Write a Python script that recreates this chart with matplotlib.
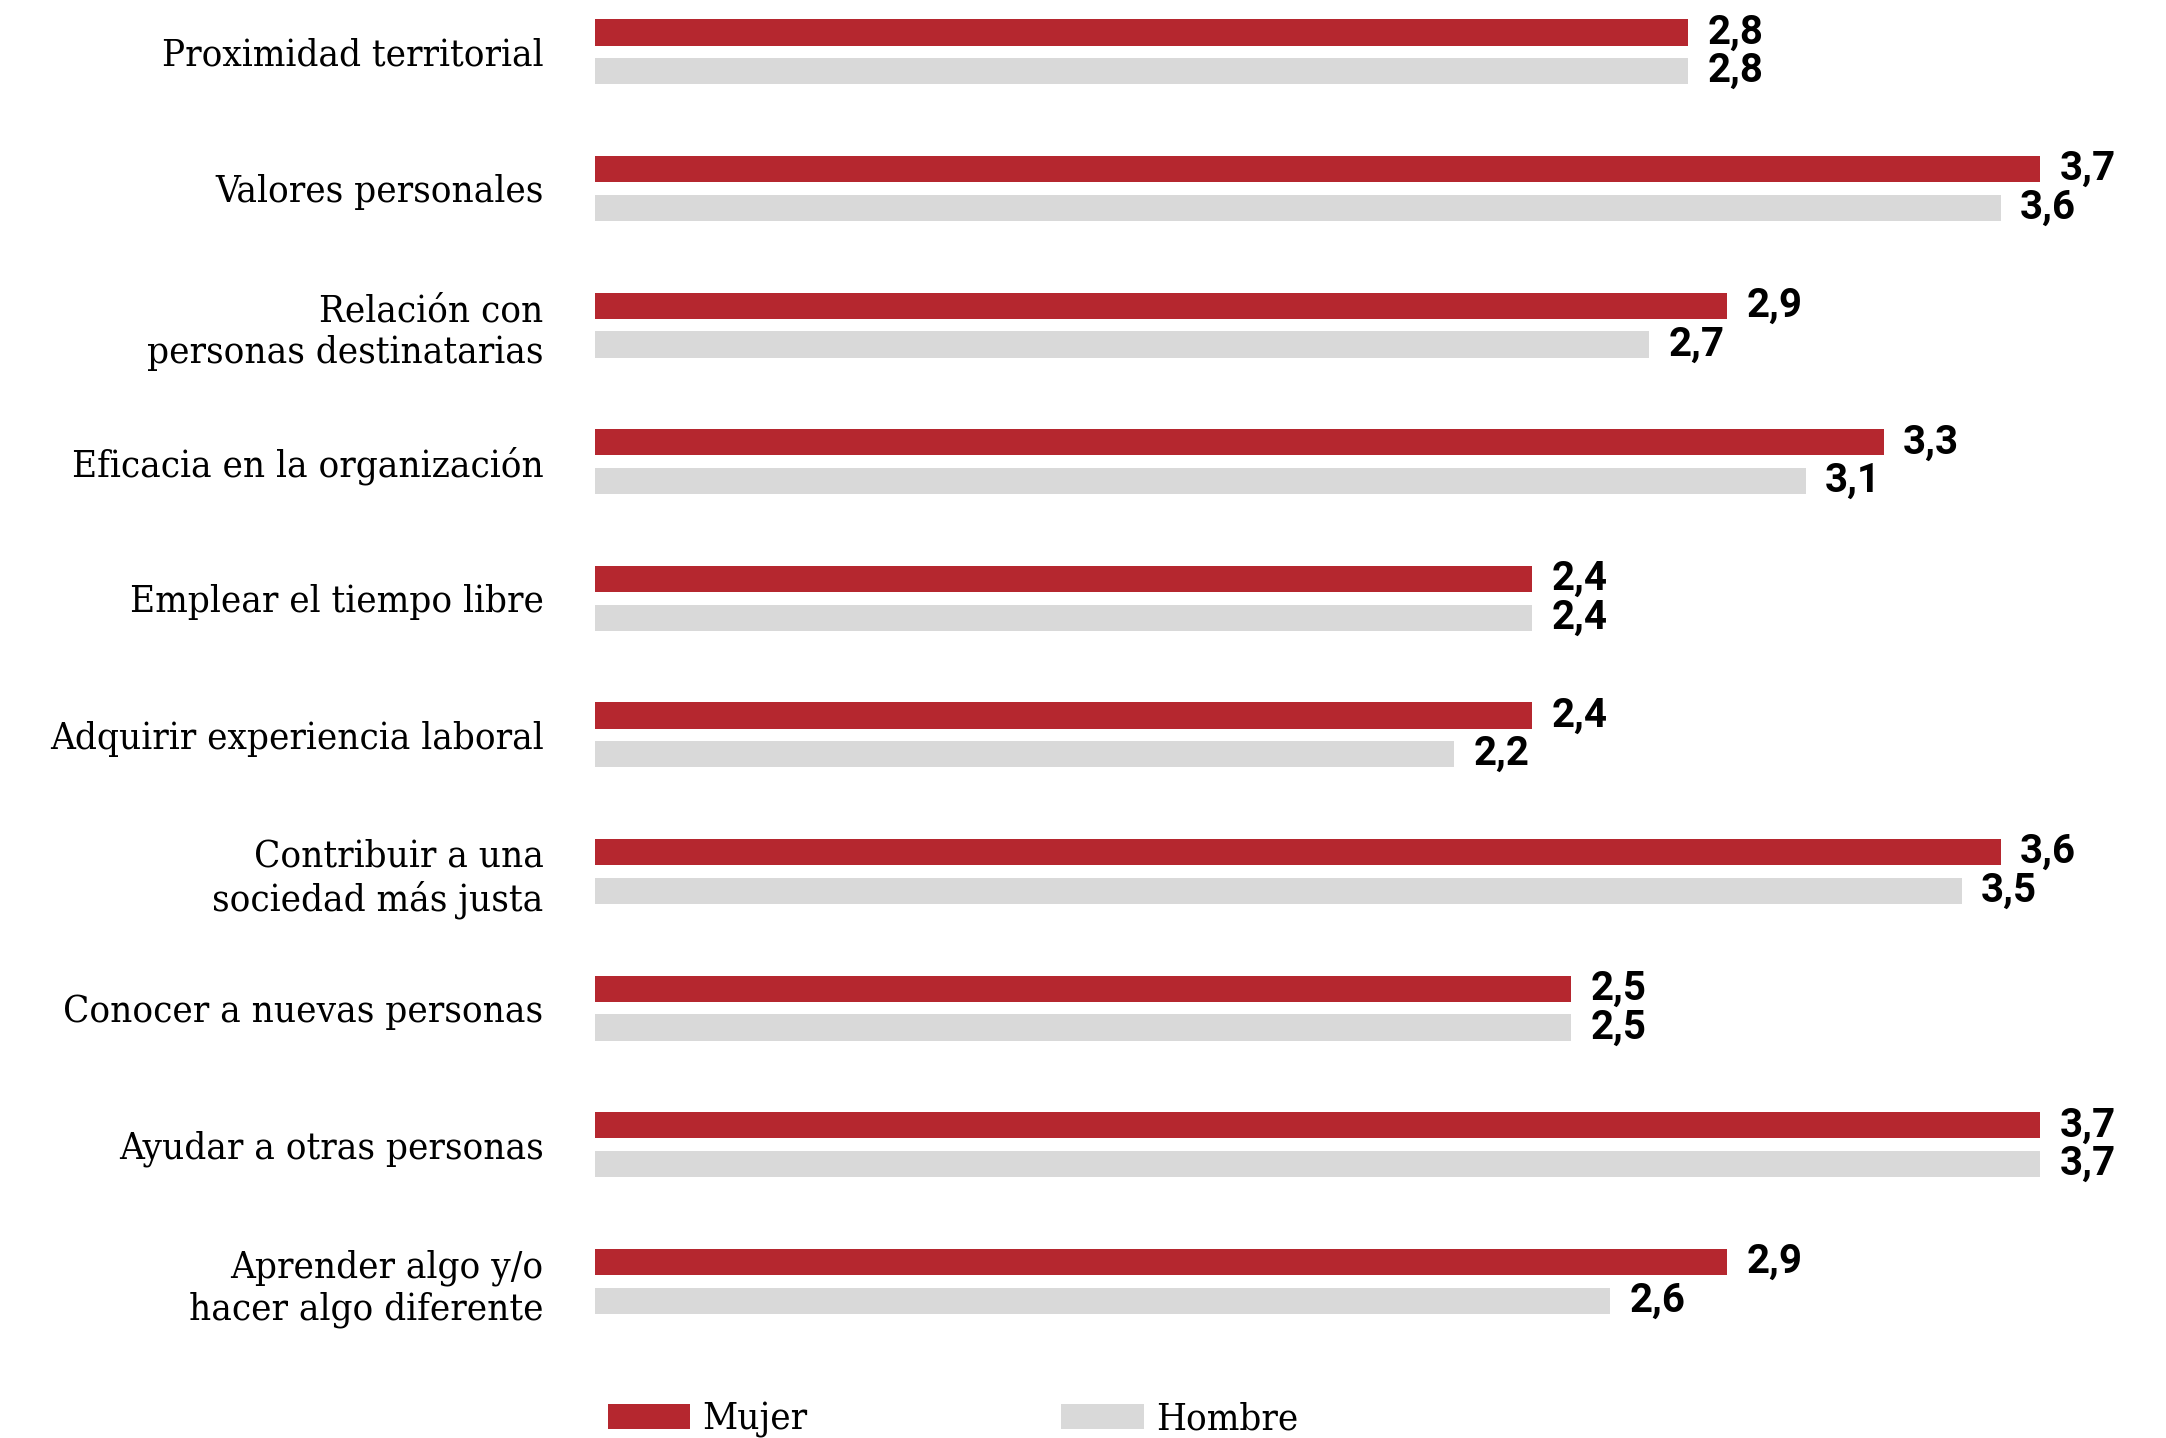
import matplotlib
matplotlib.use("Agg")
import matplotlib.pyplot as plt
import numpy as np

categorias = [
    "Proximidad territorial",
    "Valores personales",
    "Relación con\npersonas destinatarias",
    "Eficacia en la organización",
    "Emplear el tiempo libre",
    "Adquirir experiencia laboral",
    "Contribuir a una\nsociedad más justa",
    "Conocer a nuevas personas",
    "Ayudar a otras personas",
    "Aprender algo y/o\nhacer algo diferente",
]
mujer = [2.8, 3.7, 2.9, 3.3, 2.4, 2.4, 3.6, 2.5, 3.7, 2.9]
hombre = [2.8, 3.6, 2.7, 3.1, 2.4, 2.2, 3.5, 2.5, 3.7, 2.6]
series = ["Mujer", "Hombre"]

ROJO = "#B5272F"
GRIS = "#D9D9D9"
label_font = dict(family="DejaVu Serif", stretch="condensed")
value_font = dict(family="Roboto", weight="bold", stretch="condensed")

fig = plt.figure(figsize=(21.66, 14.38), dpi=100)
ax = fig.add_axes([595 / 2166, 0, 1 - 595 / 2166, 1])

y = np.arange(len(categorias))
off = 0.1417
h = 0.192
b1 = ax.barh(y - off, mujer, height=h, color=ROJO, label=series[0])
b2 = ax.barh(y + off, hombre, height=h, color=GRIS, label=series[1])

for bars, vals in ((b1, mujer), (b2, hombre)):
    for bar, v in zip(bars, vals):
        ax.annotate(f"{v:.1f}".replace(".", ","),
                    (bar.get_width(), bar.get_y() + bar.get_height() / 2),
                    xytext=(14, 0), textcoords="offset points",
                    ha="left", va="center", fontsize=29, color="black",
                    **value_font)

ax.set_xlim(0, 1571 / 390.5)
ax.set_ylim(10.147, -0.3796)
ax.set_yticks(y)
ax.set_yticklabels(categorias, fontsize=27.5, linespacing=1.2, **label_font)
ax.tick_params(axis="y", length=0, pad=37)
ax.set_xticks([])
for s in ax.spines.values():
    s.set_visible(False)

fig.legend(handles=[b1, b2], labels=series, loc="center left",
           bbox_to_anchor=(608 / 2166, 18 / 1438), ncol=2, frameon=False,
           prop=dict(size=27.5, **label_font),
           handlelength=2.15, handleheight=0.64, handletextpad=0.32,
           columnspacing=6.65, borderpad=0, borderaxespad=0)

fig.savefig("out.png", dpi=100)
